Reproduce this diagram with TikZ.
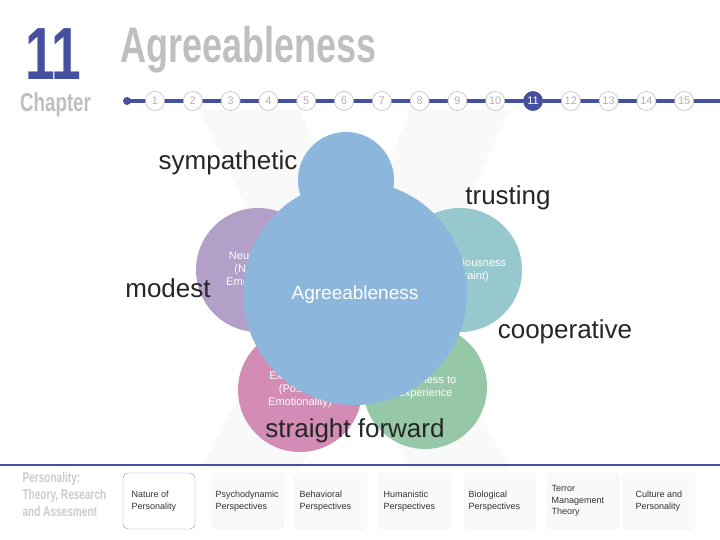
\documentclass[tikz,border=0pt]{standalone}
\usepackage{fontspec}
\setmainfont{Liberation Sans}
\newfontfamily\cond{Liberation Sans}[FakeStretch=0.72]
\definecolor{cblue}{RGB}{140,182,220}
\definecolor{cpurp}{RGB}{178,160,200}
\definecolor{cteal}{RGB}{150,200,205}
\definecolor{cpink}{RGB}{210,140,182}
\definecolor{cgreen}{RGB}{150,200,168}
\definecolor{navy}{RGB}{70,80,160}
\begin{document}
\begin{tikzpicture}[x=1pt,y=-1pt,
  hdr/.style={text=gray!50,font=\cond\bfseries},
  num/.style={circle,draw=gray!50,fill=white,line width=0.6pt,inner sep=0pt,minimum size=19pt,font=\fontsize{11}{11}\selectfont,text=gray!60},
  petal/.style={circle,inner sep=0pt,text=white,font=\fontsize{11}{13}\selectfont,align=center},
  word/.style={font=\fontsize{26}{28}\selectfont,text=black!85},
  tab/.style={draw=gray!12,fill=gray!5,rounded corners=5pt,minimum width=72pt,minimum height=56pt,inner sep=0pt},
  tabtxt/.style={font=\fontsize{9}{11.5}\selectfont,align=left,anchor=west,text=black!80}]
\useasboundingbox (0,0) rectangle (720,540);
\fill[white] (0,0) rectangle (720,540);
% background X shape
\fill[gray!5] (200,110) -- (300,110) -- (355,250) -- (410,110) -- (510,110) -- (420,300) -- (510,470) -- (410,470) -- (355,350) -- (300,470) -- (200,470) -- (290,300) -- cycle;
% header
\node[anchor=base west,text=navy,font=\cond\bfseries\fontsize{74}{74}\selectfont,inner sep=0pt,text depth=0pt] (ch) at (25,80) {11};
\node[anchor=west,hdr,font=\cond\bfseries\fontsize{50}{50}\selectfont,inner sep=0pt] (title) at (120,50) {Agreeableness};
\node[anchor=base west,hdr,font=\cond\bfseries\fontsize{26}{26}\selectfont,inner sep=0pt] (chap) at (20,112) {Chapter};
\coordinate (ls) at (127,101);
\coordinate (le) at (720,101);
\draw[line width=3.5pt,color=navy] (ls) -- (le);
\fill[navy] (ls) circle (4pt);
\foreach \i in {1,...,15}{
  \node[num] (n\i) at ({155+(\i-1)*37.8},101) {\i};
}
\node[num,fill=navy,draw=navy,text=white] at (n11) {11};
% bottom line
\coordinate (bs) at (0,465);
\coordinate (be) at (720,465);
\draw[line width=2pt,color=navy] (bs) -- (be);
% petals
\node[petal,fill=cpurp,minimum size=124pt] (neu) at (258,270) {Neuroticism\\(Negative\\Emotionality)};
\node[petal,fill=cteal,minimum size=124pt] (con) at (460,270) {Conscientiousness\\(Constraint)};
\node[petal,fill=cpink,minimum size=124pt] (ext) at (300,390) {Extraversion\\(Positive\\Emotionality)};
\node[petal,fill=cgreen,minimum size=124pt] (ope) at (425,387) {Openness to\\Experience};
\node[petal,fill=cblue,minimum size=96pt] (top) at (346,180) {};
\node[petal,fill=cblue,minimum size=224pt] (agr) at (355,293) {};
\node[text=white,font=\fontsize{19}{19}\selectfont] (agrl) at (355,295) {Agreeableness};
% words
\node[word] (w1) at (228,163) {sympathetic};
\node[word] (w2) at (508,198) {trusting};
\node[word] (w3) at (168,288) {modest};
\node[word] (w4) at (565,332) {cooperative};
\node[word] (w5) at (355,431) {straight forward};
% footer
\node[hdr,align=left,anchor=west,font=\cond\bfseries\fontsize{14}{17}\selectfont,text=gray!40] (pt) at (19,494) {Personality:\\Theory, Research\\and Assesment};
\node[tab,fill=white,draw=navy!60] (t1) at (159,501) {};
\node[tabtxt] at (128,501) {Nature of\\Personality};
\foreach \x [count=\k] in {248,331,415,500,583,659}{
  \node[tab] (tb\k) at (\x,501) {};
}
\node[tabtxt] at (212,501) {Psychodynamic\\Perspectives};
\node[tabtxt] at (296,501) {Behavioral\\Perspectives};
\node[tabtxt] at (380,501) {Humanistic\\Perspectives};
\node[tabtxt] at (465,501) {Biological\\Perspectives};
\node[tabtxt] at (548,501) {Terror\\Management\\Theory};
\node[tabtxt] at (632,501) {Culture and\\Personality};
\end{tikzpicture}
\end{document}
